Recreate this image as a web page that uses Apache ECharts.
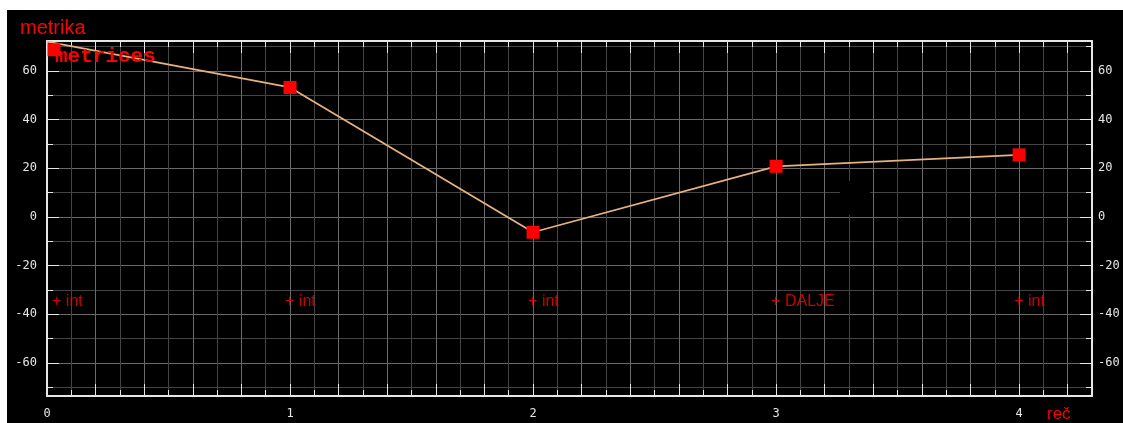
<!DOCTYPE html>
<html><head><meta charset="utf-8">
<script src="https://cdn.jsdelivr.net/npm/echarts@6/dist/echarts.min.js"></script>
<style>
html,body{margin:0;padding:0;background:#fff;width:1123px;height:423px;overflow:hidden}
#c{position:absolute;left:7px;top:10px;width:1116px;height:413px;background:#000}
</style>
</head><body><div id="c"></div>
<script>
const xValues = [0, 1, 2, 3, 4];
const metricValues = [72, 53.2, -6.3, 20.8, 25.5];
const pointLabels = ['int', 'int', 'int', 'DALJE', 'int'];
const labelLevel = -35;
const xTickLabels = ['0', '1', '2', '3', '4'];
const yTickLabels = ['-60', '-40', '-20', '0', '20', '40', '60'];
const titleText = 'metrika';
const seriesName = 'metrices';
const xName = 'reč';
const yMin = -73.6, yMax = 72.3, xMin = 0, xMax = 4.3;

const chart = echarts.init(document.getElementById('c'), null, {renderer: 'canvas'});
const RED = '#ff0000';
const WHITE = '#e6e6e6';
const MINOR = '#444444';
const MAJOR = '#6a6a6a';
const labelFont = {color: WHITE, fontFamily: 'DejaVu Sans Mono', fontSize: 12};

function xFmt(v) {
  const r = Math.round(v);
  if (Math.abs(v - r) > 1e-6) return '';
  const s = String(r);
  return xTickLabels.includes(s) ? s : '';
}
function yFmt(v) {
  const r = Math.round(v);
  if (Math.abs(v - r) > 1e-6) return '';
  const s = String(r);
  return yTickLabels.includes(s) ? s : '';
}

function xAx(pos, interval, len, opts) {
  return Object.assign({
    type: 'value', position: pos, min: xMin, max: xMax, interval: interval,
    axisLine: {show: false, onZero: false},
    axisTick: {show: true, inside: true, length: len, lineStyle: {color: WHITE, width: 1}},
    axisLabel: {show: false},
    splitLine: {show: false}
  }, opts || {});
}
function yAx(pos, splitNumber, len, opts) {
  return Object.assign({
    type: 'value', position: pos, min: yMin, max: yMax, splitNumber: splitNumber,
    axisLine: {show: false, onZero: false},
    axisTick: {show: true, inside: true, length: len, lineStyle: {color: WHITE, width: 1}},
    axisLabel: {show: false},
    splitLine: {show: false}
  }, opts || {});
}
const borderLine = {show: true, onZero: false, lineStyle: {color: WHITE, width: 2}};

const lineData = xValues.map((x, i) => {
  const item = {value: [x, metricValues[i]]};
  if (i === 0) item.symbolOffset = [7, 8];
  return item;
});
const labelData = xValues.map((x, i) => {
  const item = {value: [x, labelLevel], name: pointLabels[i]};
  if (i === 0) item.label = {offset: [5, 0]};
  return item;
});

chart.setOption({
  backgroundColor: '#000',
  animation: false,
  title: [
    {text: titleText, left: 13, top: 8, padding: 0,
     textStyle: {color: RED, fontSize: 20, fontWeight: 'normal', fontFamily: 'Liberation Sans'}},
    {text: seriesName, left: 48, top: 36, padding: 0,
     textStyle: {color: RED, fontSize: 21, fontWeight: 'bold', fontFamily: 'Liberation Mono'}},
    {text: xName, left: 1040, top: 396, padding: 0,
     textStyle: {color: RED, fontSize: 17, fontWeight: 'normal', fontFamily: 'Liberation Sans'}}
  ],
  grid: {left: 40, top: 31, width: 1045, height: 355, containLabel: false, outerBoundsMode: 'none'},
  xAxis: [
    xAx('bottom', 0.1, 6, {splitLine: {show: true, lineStyle: {color: MINOR, width: 1}}}),
    xAx('bottom', 0.2, 12, {
      axisLine: borderLine,
      axisLabel: Object.assign({show: true, margin: 12, formatter: xFmt, showMinLabel: true, showMaxLabel: true}, labelFont),
      splitLine: {show: true, lineStyle: {color: MAJOR, width: 1}}
    }),
    xAx('top', 0.1, 6),
    xAx('top', 0.2, 12, {axisLine: borderLine})
  ],
  yAxis: [
    yAx('left', 15, 6, {splitLine: {show: true, lineStyle: {color: MINOR, width: 1}}}),
    yAx('left', 7, 12, {
      axisLine: borderLine,
      axisLabel: Object.assign({show: true, margin: 10, formatter: yFmt}, labelFont),
      splitLine: {show: true, lineStyle: {color: MAJOR, width: 1}}
    }),
    yAx('right', 15, 6),
    yAx('right', 7, 12, {
      axisLine: borderLine,
      axisLabel: Object.assign({show: true, margin: 6, formatter: yFmt}, labelFont)
    })
  ],
  graphic: [
    {type: 'rect', left: 833, top: 171, z: 3, shape: {width: 30, height: 34}, style: {fill: '#000'}}
  ],
  series: [
    {
      type: 'line', name: seriesName, xAxisIndex: 1, yAxisIndex: 1,
      data: lineData,
      lineStyle: {color: '#e8b27f', width: 1.8},
      symbol: 'rect', symbolSize: 13, showAllSymbol: true,
      itemStyle: {color: RED},
      clip: false, z: 5
    },
    {
      type: 'scatter', xAxisIndex: 1, yAxisIndex: 1,
      data: labelData,
      symbolSize: 0.1, itemStyle: {color: 'rgba(0,0,0,0)'},
      label: {show: true, position: 'right', distance: 0, offset: [-5, 0],
        formatter: p => '+ ' + p.name,
        color: RED, fontSize: 16, fontFamily: 'Liberation Sans'},
      z: 6
    }
  ]
});
</script></body></html>
